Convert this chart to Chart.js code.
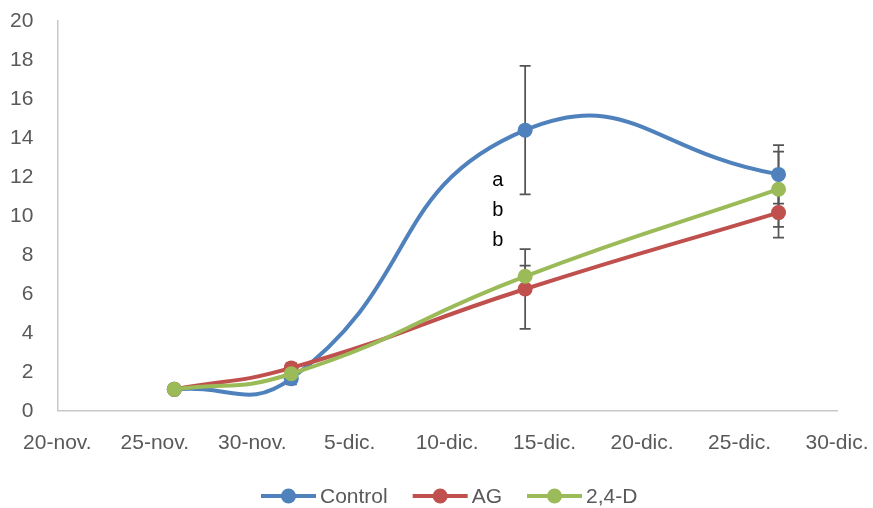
<!DOCTYPE html>
<html>
<head>
<meta charset="utf-8">
<script src="https://cdn.jsdelivr.net/npm/chart.js@4.4.1/dist/chart.umd.min.js"></script>
<style>
  html, body { margin: 0; padding: 0; background: #fff; }
  #wrap { width: 873px; height: 508px; }
</style>
</head>
<body>
<div id="wrap"><canvas id="chart"></canvas></div>
<script>
// DATOS (dias desde el 20-nov)
const xTickLabels = ["20-nov.", "25-nov.", "30-nov.", "5-dic.", "10-dic.", "15-dic.", "20-dic.", "25-dic.", "30-dic."];
const sampleDays = [6, 12, 24, 37];

const controlVals = [1.1, 1.65, 14.4, 12.13];
const agVals = [1.1, 2.2, 6.25, 10.17];
const dVals = [1.1, 1.9, 6.9, 11.37];

const controlErr = [0, 0.3, 3.3, 1.5];
const agErr = [0, 0.25, 2.05, 1.28];
const dErr = [0, 0.2, 0.55, 1.93];

const seriesNames = ["Control", "AG", "2,4-D"];
const seriesColors = ["#4f81bd", "#c0504d", "#9bbb59"];

// letras de significancia
const letterText = ["a", "b", "b"];
const letterDay = 22.6;
const letterY = [11.8, 10.3, 8.75];

const textColor = "#595959";
const fontFam = "'Liberation Sans', Arial, sans-serif";

function toPoints(vals) {
  return vals.map((v, i) => ({ x: sampleDays[i], y: v }));
}

function makeSeries(i, vals, errs, order) {
  return {
    label: seriesNames[i],
    data: toPoints(vals),
    errs: errs,
    borderColor: seriesColors[i],
    backgroundColor: seriesColors[i],
    pointBackgroundColor: seriesColors[i],
    pointBorderColor: seriesColors[i],
    pointBorderWidth: 0,
    pointRadius: 7.5,
    borderWidth: 4,
    tension: 0.5,
    order: order
  };
}

// BARRAS DE ERROR (debajo de las lineas)
const errorBars = {
  id: "errorBars",
  beforeDatasetsDraw(chart) {
    const { ctx, scales: { x, y } } = chart;
    ctx.save();
    ctx.strokeStyle = "#555555";
    ctx.lineWidth = 1.75;
    chart.data.datasets.forEach(ds => {
      ds.data.forEach((p, i) => {
        const e = ds.errs[i];
        if (!e) return;
        const px = x.getPixelForValue(p.x);
        const top = y.getPixelForValue(p.y + e);
        const bot = y.getPixelForValue(p.y - e);
        ctx.beginPath();
        ctx.moveTo(px, top);
        ctx.lineTo(px, bot);
        ctx.moveTo(px - 5.5, top);
        ctx.lineTo(px + 5.5, top);
        ctx.moveTo(px - 5.5, bot);
        ctx.lineTo(px + 5.5, bot);
        ctx.stroke();
      });
    });
    ctx.restore();
  }
};

// LETRAS + LEYENDA
const extras = {
  id: "extras",
  afterDraw(chart) {
    const { ctx, scales: { x, y }, chartArea } = chart;
    ctx.save();
    ctx.fillStyle = "#000";
    ctx.font = "20px " + fontFam;
    ctx.textAlign = "center";
    ctx.textBaseline = "middle";
    letterText.forEach((t, i) => {
      ctx.fillText(t, x.getPixelForValue(letterDay), y.getPixelForValue(letterY[i]));
    });

    // leyenda abajo
    ctx.font = "21px " + fontFam;
    ctx.textAlign = "left";
    const iconW = 55, gap = 4, spacing = 25;
    const widths = seriesNames.map(n => iconW + gap + ctx.measureText(n).width);
    const total = widths.reduce((a, b) => a + b, 0) + spacing * (widths.length - 1);
    let lx = (chartArea.left + chartArea.right) / 2 + 2 - total / 2;
    const ly = 496;
    seriesNames.forEach((n, i) => {
      ctx.strokeStyle = seriesColors[i];
      ctx.lineWidth = 4;
      ctx.beginPath();
      ctx.moveTo(lx, ly);
      ctx.lineTo(lx + iconW, ly);
      ctx.stroke();
      ctx.fillStyle = seriesColors[i];
      ctx.beginPath();
      ctx.arc(lx + iconW / 2, ly, 7.5, 0, Math.PI * 2);
      ctx.fill();
      ctx.fillStyle = textColor;
      ctx.fillText(n, lx + iconW + gap, ly + 1);
      lx += widths[i] + spacing;
    });
    ctx.restore();
  }
};

const chart = new Chart(document.getElementById("chart"), {
  type: "line",
  data: {
    datasets: [
      makeSeries(0, controlVals, controlErr, 3),
      makeSeries(1, agVals, agErr, 2),
      makeSeries(2, dVals, dErr, 1)
    ]
  },
  options: {
    responsive: true,
    maintainAspectRatio: false,
    animation: false,
    layout: { padding: { left: 10, right: 36, top: 21, bottom: 52 } },
    plugins: {
      legend: { display: false },
      tooltip: { enabled: false }
    },
    scales: {
      x: {
        type: "linear",
        min: 0,
        max: 40,
        grid: { display: false, drawTicks: false },
        border: { color: "#c8c8c8", width: 1.5 },
        afterFit: s => {
          s.paddingLeft = 0;
          s.paddingRight = 0;
          s.height -= s.options.ticks.padding;
        },
        ticks: {
          stepSize: 5,
          padding: 20,
          color: textColor,
          font: { size: 21, family: fontFam },
          maxRotation: 0,
          autoSkip: false,
          callback: v => xTickLabels[Math.round(v / 5)]
        }
      },
      y: {
        min: 0,
        max: 20,
        grid: { display: false, drawTicks: false },
        border: { color: "#c8c8c8", width: 1.5 },
        afterFit: s => {
          s.paddingTop = 0;
          s.paddingBottom = 0;
          s.width -= s.options.ticks.padding;
        },
        ticks: {
          stepSize: 2,
          padding: 24,
          color: textColor,
          font: { size: 21, family: fontFam }
        }
      }
    }
  },
  plugins: [errorBars, extras]
});
</script>
</body>
</html>
